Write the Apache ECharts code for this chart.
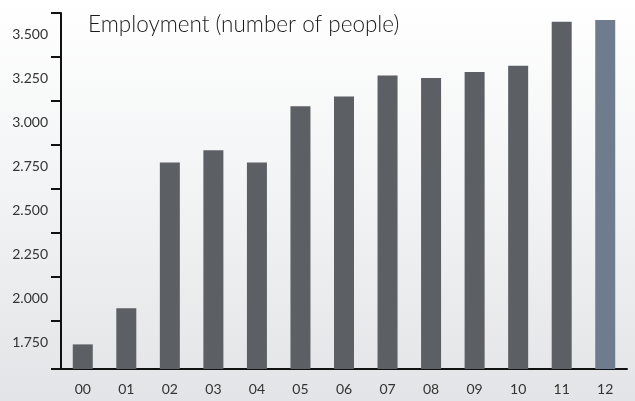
<!DOCTYPE html>
<html>
<head>
<meta charset="utf-8">
<script src="https://cdn.jsdelivr.net/npm/echarts@6/dist/echarts.min.js"></script>
<style>
  html, body { margin: 0; padding: 0; }
  #chart { width: 635px; height: 401px; background: linear-gradient(#ffffff 0%, #f3f4f5 45%, #e2e4e7 100%); }
</style>
</head>
<body>
<div id="chart"></div>
<script>
// data
var years = ['00', '01', '02', '03', '04', '05', '06', '07', '08', '09', '10', '11', '12'];
var employment = [1740, 1945, 2775, 2845, 2775, 3095, 3150, 3270, 3255, 3290, 3325, 3575, 3585];
var labelValues = [1750, 2000, 2250, 2500, 2750, 3000, 3250, 3500];
var tickValues = [1600, 1875, 2125, 2375, 2625, 2875, 3125, 3375, 3625];

function fmt(v) {
  var s = String(Math.round(v));
  return s.slice(0, s.length - 3) + '.' + s.slice(-3);
}

var chart = echarts.init(document.getElementById('chart'));

chart.setOption({
  animation: false,
  title: {
    text: 'Employment (number of people)',
    left: 83,
    top: 8,
    textStyle: { fontFamily: 'Lato', fontSize: 22.5, fontWeight: 300, color: '#1a1a1a' }
  },
  grid: { left: 61, right: 8, top: 13, bottom: 32 },
  xAxis: {
    type: 'category',
    data: years,
    axisLine: { lineStyle: { color: '#111', width: 2 } },
    axisTick: { length: 10, lineStyle: { color: '#111', width: 2 } },
    axisLabel: { margin: 13, fontFamily: 'Lato', fontSize: 14, color: '#333' }
  },
  yAxis: {
    type: 'value',
    min: 1600,
    max: 3625,
    splitLine: { show: false },
    axisLine: { show: true, lineStyle: { color: '#111', width: 2 } },
    axisTick: { show: true, length: 10, customValues: tickValues, lineStyle: { color: '#111', width: 2 } },
    axisLabel: {
      customValues: labelValues,
      margin: 13,
      fontFamily: 'Lato',
      fontSize: 14,
      color: '#333',
      formatter: fmt
    }
  },
  series: [{
    type: 'bar',
    barWidth: 20,
    data: employment.map(function (v, i) {
      return { value: v, itemStyle: { color: i === employment.length - 1 ? '#6f7c8e' : '#5c5f63' } };
    })
  }]
});
</script>
</body>
</html>
